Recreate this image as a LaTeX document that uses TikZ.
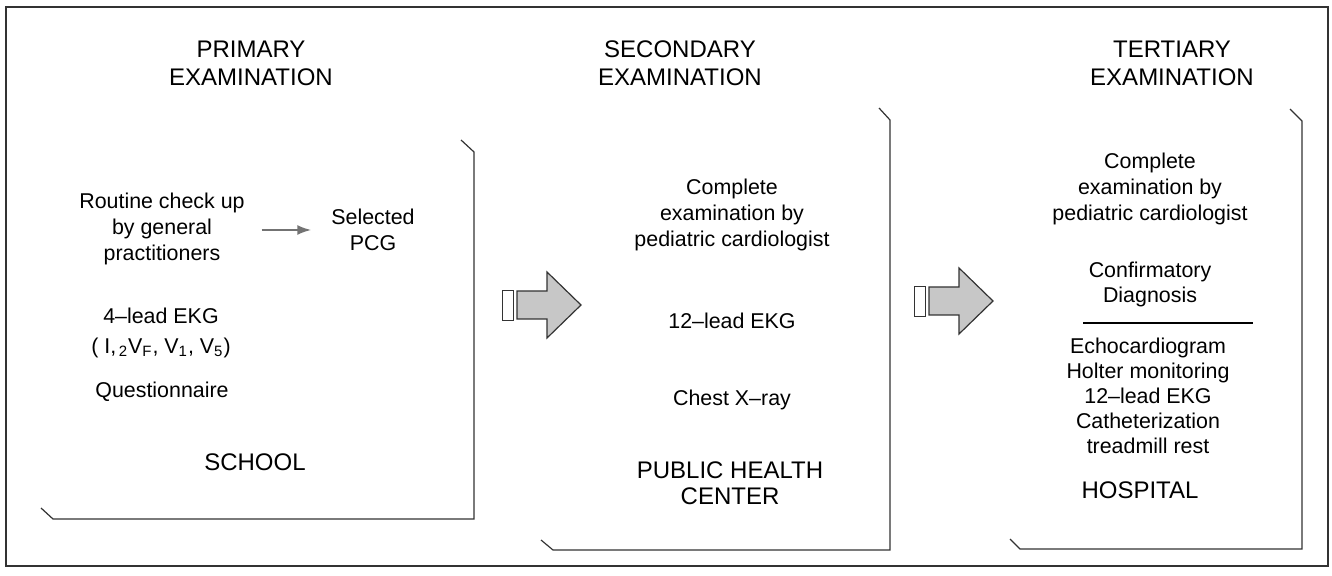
\documentclass[tikz,border=0pt]{standalone}
\usepackage{fontspec}
\setmainfont{Liberation Sans}
\usetikzlibrary{arrows.meta}

\begin{document}
\begin{tikzpicture}[x=0.5pt, y=-0.5pt,
                frame line/.style={line width=0.6pt, black!80},
                title/.style={align=center, font=\fontsize{12}{14}\selectfont},
                body/.style={align=center, font=\fontsize{10.7}{13}\selectfont},
                place/.style={align=center, font=\fontsize{12}{13}\selectfont},
                block arrow/.style={draw=black!80, line width=0.6pt, fill=black!22}
            ]

            \useasboundingbox (0, 0) rectangle (1332, 576);
            \draw[frame line] (6, 7) rectangle (1328, 566);

            % panel outlines
            \draw[frame line] (461, 140) -- (474, 152) -- (474, 519) -- (53, 519) -- (41, 508);
            \draw[frame line] (879, 108) -- (890, 120) -- (890, 550) -- (553, 550) -- (541, 540);
            \draw[frame line] (1290, 109) -- (1302, 121) -- (1302, 549) -- (1020, 549) -- (1010, 539);

            % block arrows between the panels
            \foreach \dx/\dy in {0/0, 412/-4} {
                \draw[block arrow, fill=none, line width=0.4pt] (502+\dx, 290+\dy) rectangle (513+\dx, 320+\dy);
                \draw[block arrow] (517+\dx, 291+\dy) -- (547+\dx, 291+\dy) -- (547+\dx, 272+\dy)
                    -- (581+\dx, 305+\dy) -- (547+\dx, 338+\dy) -- (547+\dx, 319+\dy)
                    -- (517+\dx, 319+\dy) -- cycle;
            }

            % primary
            \node[title] (primary) at (251, 63) {PRIMARY\\EXAMINATION};
            \node[body] (routine) at (162, 229) {Routine check up\\by general\\practitioners};
            \node[body] (pcg) at (373, 230) {Selected\\PCG};
            \node[body] (lead4) at (161, 333) {4--lead EKG\\[2pt]( I,\textsubscript{\,2}V\textsubscript{F}, V\textsubscript{1}, V\textsubscript{5})};
            \node[body] (quest) at (162, 392) {Questionnaire};
            \node[place] (school) at (255, 462) {SCHOOL};
            \draw[-{Latex[length=7pt, width=5pt]}, line width=1pt, black!55, shorten <=5pt, shorten >=6.5pt]
                (routine.east |- pcg) -- (pcg.west);

            % secondary
            \node[title] (secondary) at (680, 63) {SECONDARY\\EXAMINATION};
            \node[body] (complete2) at (732, 215) {Complete\\examination by\\pediatric cardiologist};
            \node[body] (lead12) at (732, 321) {12--lead EKG};
            \node[body] (xray) at (732, 400) {Chest X--ray};
            \node[place] (center) at (730, 483) {PUBLIC HEALTH\\CENTER};

            % tertiary
            \node[title] (tertiary) at (1172, 63) {TERTIARY\\EXAMINATION};
            \node[body] (complete3) at (1150, 189) {Complete\\examination by\\pediatric cardiologist};
            \node[body, font=\fontsize{10.7}{12.5}\selectfont] (confirm) at (1150, 284) {Confirmatory\\Diagnosis};
            \draw[line width=0.9pt] (1083, 323) -- (1253, 323);
            \node[body, font=\fontsize{10.7}{12.5}\selectfont] (tests) at (1148, 396) {Echocardiogram\\Holter monitoring\\12--lead EKG\\Catheterization\\treadmill rest};
            \node[place] (hospital) at (1140, 490) {HOSPITAL};
        \end{tikzpicture}
\end{document}
